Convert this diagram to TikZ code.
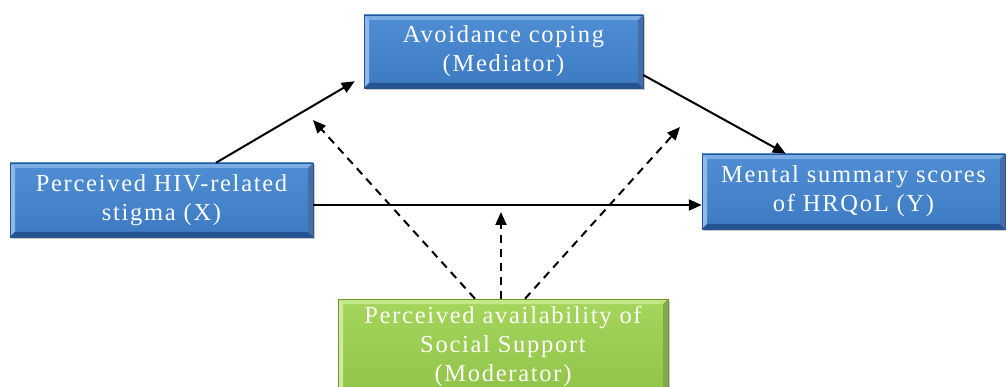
\documentclass[tikz,border=0pt]{standalone}
\usepackage{fontspec}
\setmainfont{Liberation Serif}[LetterSpace=7]
\usepackage{tikz}
\usetikzlibrary{calc,arrows.meta,shadows}
\definecolor{faceB}{RGB}{60,122,194}
\definecolor{topB}{RGB}{80,142,212}
\definecolor{lightB}{RGB}{124,172,228}
\definecolor{darkB}{RGB}{38,84,146}
\definecolor{faceG}{RGB}{144,196,72}
\definecolor{topG}{RGB}{166,214,92}
\definecolor{lightG}{RGB}{196,232,134}
\definecolor{darkG}{RGB}{108,152,46}
\tikzset{
  bevel/.style 2 args={path picture={
    \fill[#1] (path picture bounding box.north west) -- (path picture bounding box.north east)
      -- ++(-5pt,-5pt) -- ($(path picture bounding box.north west)+(5pt,-5pt)$) -- cycle;
    \fill[#1!85!white] (path picture bounding box.north west) -- ++(5pt,-5pt)
      -- ($(path picture bounding box.south west)+(5pt,5pt)$) -- (path picture bounding box.south west) -- cycle;
    \fill[#2] (path picture bounding box.south west) -- (path picture bounding box.south east)
      -- ++(-5pt,5pt) -- ($(path picture bounding box.south west)+(5pt,5pt)$) -- cycle;
    \fill[#2!85!white] (path picture bounding box.north east) -- (path picture bounding box.south east)
      -- ++(-5pt,5pt) -- ($(path picture bounding box.north east)+(-5pt,-5pt)$) -- cycle;}},
  boxS/.style   ={inner sep=0pt, align=center, text=white,
                  font=\fontsize{24.5}{29}\selectfont,
                  drop shadow={shadow xshift=2pt, shadow yshift=-2pt, opacity=0.35, fill=black!60}},
  blueS/.style  ={boxS, top color=topB, bottom color=faceB, draw=darkB, line width=0.5pt, bevel={lightB}{darkB}},
  greenS/.style ={boxS, top color=topG, bottom color=faceG, draw=darkG, line width=0.5pt, bevel={lightG}{darkG}},
  link/.style   ={line width=2pt, -{Triangle[length=13pt,width=11pt]}},
  mod/.style    ={link, dash pattern=on 8pt off 6pt},
}

\begin{document}
\begin{tikzpicture}[x=1pt,y=-1pt]
  \clip (0,0) rectangle (1006,387);
  \node[blueS, minimum width=279pt, minimum height=73pt] (M) at (503.5,51.5)
    {Avoidance coping\\(Mediator)};
  \node[blueS, minimum width=303pt, minimum height=74pt] (X) at (161.5,200)
    {Perceived HIV-related\\stigma (X)};
  \node[blueS, minimum width=303pt, minimum height=75pt] (Y) at (853.5,191.5)
    {Mental summary scores\\of HRQoL (Y)};
  \node[greenS, minimum width=330pt, minimum height=94pt] (W) at (503,346)
    {Perceived availability of\\Social Support\\(Moderator)};
  % direct and mediated paths
  \draw[link] ($(X.north)+(54.5,0)$) -- ($(M.south west)+(-9,-7)$);
  \draw[link] ($(M.east)+(0,23.5)$) -- ($(Y.north west)+(84,0)$);
  \draw[link] ($(X.east)+(0,5)$) coordinate (xy) -- (xy -| Y.west);
  % moderation of the three paths
  \coordinate (ma) at (313,120);
  \coordinate (mb) at (501,212);
  \coordinate (mc) at (680,127);
  \draw[mod] ($(W.north)+(-28,0)$) -- (ma);
  \draw[mod] (W.north -| mb) -- (mb);
  \draw[mod] ($(W.north)+(22,0)$) -- (mc);
\end{tikzpicture}
\end{document}
